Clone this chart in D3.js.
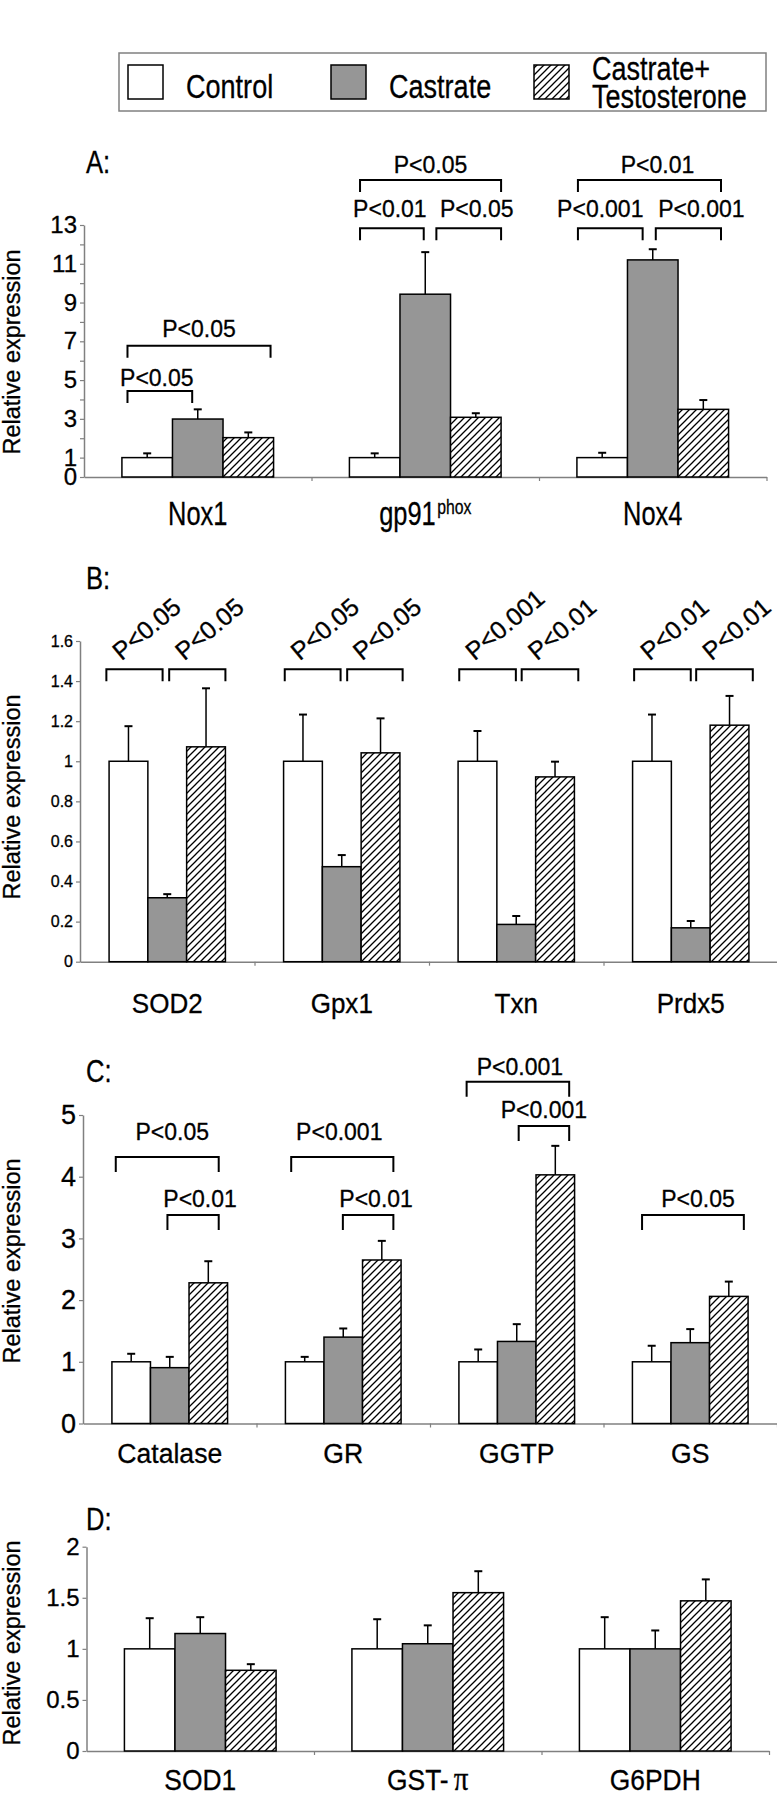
<!DOCTYPE html>
<html><head><meta charset="utf-8">
<script src="https://cdn.jsdelivr.net/npm/d3@7/dist/d3.min.js"></script>
<style>body{margin:0;background:#fff} svg{display:block} text{stroke:#000;stroke-width:0.3px}</style>
</head><body>
<svg id="chart" width="777" height="1800"></svg>
<script>
// ---------- DATA ----------
const seriesNames = ["Control", "Castrate", "Castrate+Testosterone"];
const legendLines = [["Control"], ["Castrate"], ["Castrate+", "Testosterone"]];

// Panel A
const catsA = ["Nox1", "gp91", "Nox4"];
const supA = ["", "phox", ""];
const controlA = [1.0, 1.0, 1.0];
const castrateA = [2.99, 9.43, 11.2];
const testoA = [2.03, 3.08, 3.49];
const controlErrA = [0.22, 0.22, 0.25];
const castrateErrA = [0.50, 2.17, 0.55];
const testoErrA = [0.27, 0.21, 0.48];
const ticksA = d3.range(0, 14);
const tickLabelsA = [0, 1, 3, 5, 7, 9, 11, 13];

// Panel B
const catsB = ["SOD2", "Gpx1", "Txn", "Prdx5"];
const controlB = [1.0, 1.0, 1.0, 1.0];
const castrateB = [0.319, 0.474, 0.186, 0.169];
const testoB = [1.072, 1.042, 0.922, 1.18];
const controlErrB = [0.175, 0.233, 0.151, 0.233];
const castrateErrB = [0.018, 0.058, 0.042, 0.034];
const testoErrB = [0.292, 0.172, 0.076, 0.146];
const ticksB = [0, 0.2, 0.4, 0.6, 0.8, 1, 1.2, 1.4, 1.6];

// Panel C
const catsC = ["Catalase", "GR", "GGTP", "GS"];
const controlC = [1.0, 1.0, 1.0, 1.0];
const castrateC = [0.905, 1.40, 1.33, 1.31];
const testoC = [2.28, 2.65, 4.03, 2.06];
const controlErrC = [0.13, 0.08, 0.20, 0.26];
const castrateErrC = [0.175, 0.14, 0.28, 0.22];
const testoErrC = [0.35, 0.31, 0.47, 0.24];
const ticksC = [0, 1, 2, 3, 4, 5];

// Panel D
const catsD = ["SOD1", "GST-\u03c0", "G6PDH"];
const controlD = [1.0, 1.0, 1.0];
const castrateD = [1.15, 1.05, 1.0];
const testoD = [0.79, 1.55, 1.47];
const controlErrD = [0.30, 0.29, 0.31];
const castrateErrD = [0.16, 0.18, 0.18];
const testoErrD = [0.06, 0.21, 0.21];
const ticksD = [0, 0.5, 1, 1.5, 2];

// significance brackets: [category, from bar-pos, to bar-pos, level (data units), label]
const bracketsA = [
  ["Nox1", 0.11, 1.39, 4.44, "P<0.05"],
  ["Nox1", 0.11, 2.94, 6.77, "P<0.05"],
  ["gp91", 0.21, 1.47, 12.83, "P<0.01"],
  ["gp91", 1.72, 3.0, 12.83, "P<0.05"],
  ["gp91", 0.21, 3.0, 15.32, "P<0.05"],
  ["Nox4", 0.02, 1.30, 12.83, "P<0.001"],
  ["Nox4", 1.56, 2.85, 12.83, "P<0.001"],
  ["Nox4", 0.02, 2.85, 15.32, "P<0.01"]
];
const bracketsB = [
  ["SOD2", -0.07, 1.38, 1.459, "P<0.05"],
  ["SOD2", 1.55, 3.0, 1.459, "P<0.05"],
  ["Gpx1", 0.03, 1.47, 1.459, "P<0.05"],
  ["Gpx1", 1.64, 3.07, 1.459, "P<0.05"],
  ["Txn", 0.03, 1.49, 1.459, "P<0.001"],
  ["Txn", 1.64, 3.1, 1.459, "P<0.01"],
  ["Prdx5", 0.04, 1.5, 1.459, "P<0.01"],
  ["Prdx5", 1.64, 3.1, 1.459, "P<0.01"]
];
const bracketsC = [
  ["Catalase", 0.1, 2.77, 4.32, "P<0.05"],
  ["Catalase", 1.44, 2.77, 3.38, "P<0.01"],
  ["GR", 0.15, 2.80, 4.32, "P<0.001"],
  ["GR", 1.49, 2.80, 3.38, "P<0.01"],
  ["GGTP", 0.2, 2.86, 5.54, "P<0.001"],
  ["GGTP", 1.55, 2.86, 4.82, "P<0.001"],
  ["GS", 0.25, 2.89, 3.38, "P<0.05"]
];

// ---------- DRAWING ----------
const svg = d3.select("#chart");
const SANS = "'Liberation Sans',Arial,Helvetica,sans-serif";
const AXIS_GRAY = "#808080";

// condensed text helper (horizontal squeeze of a real text element)
function ntext(parent, x, y, str, size, sx, anchor) {
  return parent.append("text")
    .attr("transform", `translate(${x},${y}) scale(${sx},1)`)
    .attr("text-anchor", anchor || "start")
    .attr("font-family", SANS).attr("font-size", size).attr("fill", "#000")
    .text(str);
}

const defs = svg.append("defs");
const pat = defs.append("pattern").attr("id", "hatch")
  .attr("patternUnits", "userSpaceOnUse").attr("width", 7).attr("height", 7);
pat.append("rect").attr("width", 7).attr("height", 7).attr("fill", "#fff");
pat.append("path").attr("d", "M-1,1 L1,-1 M0,7 L7,0 M6,8 L8,6")
  .attr("stroke", "#000").attr("stroke-width", 1.3);
const fills = ["#ffffff", "#969696", "url(#hatch)"];

// legend
const lg = svg.append("g");
lg.append("rect").attr("x", 119).attr("y", 53).attr("width", 647).attr("height", 58)
  .attr("fill", "none").attr("stroke", AXIS_GRAY).attr("stroke-width", 1.5);
const legX = d3.scalePoint().domain(seriesNames).range([128, 534]);
seriesNames.forEach((s, i) => {
  const sx = legX(s);
  lg.append("rect").attr("x", sx).attr("y", 65).attr("width", 35).attr("height", 34)
    .attr("fill", fills[i]).attr("stroke", "#000").attr("stroke-width", 1.5);
  const lines = legendLines[i];
  lines.forEach((t, j) => {
    const by = lines.length === 1 ? 98 : (j === 0 ? 80 : 108);
    ntext(lg, sx + 58, by, t, 33, 0.82);
  });
});

function panel(cfg) {
  const g = svg.append("g");
  const n = cfg.cats.length;
  const x = d3.scaleBand().domain(cfg.cats).range([cfg.x0, cfg.x0 + cfg.band * n]).padding(0);
  const inner = d3.scaleBand().domain([0, 1, 2])
    .range([x.bandwidth() / 6, x.bandwidth() * 5 / 6]).padding(0);
  const bw = inner.bandwidth();
  const y = d3.scaleLinear().domain(cfg.domain).range([cfg.y0, cfg.yTop]);

  // panel letter
  ntext(g, 86, cfg.letterY, cfg.letter, 32, 0.8);

  // y title
  g.append("text").attr("transform", `translate(20,${cfg.titleY}) rotate(-90)`)
    .attr("text-anchor", "middle").text("Relative expression")
    .attr("font-family", SANS).attr("font-size", cfg.titleSize).attr("fill", "#000");

  // y axis
  const yAxis = d3.axisLeft(y).tickValues(cfg.ticks).tickSize(4).tickSizeOuter(0).tickPadding(3)
    .tickFormat(d => (cfg.tickLabels ? (cfg.tickLabels.includes(d) ? String(d) : "") : String(+d.toFixed(1))));
  const ya = g.append("g").attr("transform", `translate(${cfg.x0},0)`).call(yAxis);
  ya.select(".domain").attr("stroke", AXIS_GRAY).attr("stroke-width", 1.5);
  ya.selectAll(".tick line").attr("stroke", AXIS_GRAY).attr("stroke-width", 1.2);
  ya.selectAll(".tick text").attr("font-family", SANS).attr("font-size", cfg.tickSize).attr("fill", "#000");

  // x axis (group separators)
  const xl = d3.scaleLinear().domain([0, n]).range([cfg.x0, cfg.x0 + cfg.band * n]);
  const xAxis = d3.axisBottom(xl).tickValues(d3.range(1, n + 1)).tickSize(4).tickSizeOuter(0).tickFormat("");
  const xa = g.append("g").attr("transform", `translate(0,${cfg.y0})`).call(xAxis);
  xa.select(".domain").attr("stroke", AXIS_GRAY).attr("stroke-width", 1.5);
  xa.selectAll(".tick line").attr("stroke", AXIS_GRAY).attr("stroke-width", 1.2);

  // bars
  cfg.series.forEach((vals, si) => {
    const errs = cfg.errors[si];
    const bg = g.append("g");
    bg.selectAll("rect").data(cfg.cats).join("rect")
      .attr("x", c => x(c) + inner(si))
      .attr("y", (c, i) => y(vals[i]))
      .attr("width", bw)
      .attr("height", (c, i) => y(0) - y(vals[i]))
      .attr("fill", fills[si]).attr("stroke", "#000").attr("stroke-width", 1.5);
    const eg = g.append("g").attr("stroke", "#000");
    cfg.cats.forEach((c, i) => {
      const cx = x(c) + inner(si) + bw / 2;
      eg.append("line").attr("x1", cx).attr("x2", cx)
        .attr("y1", y(vals[i])).attr("y2", y(vals[i] + errs[i])).attr("stroke-width", 1.5);
      eg.append("line").attr("x1", cx - 4).attr("x2", cx + 4)
        .attr("y1", y(vals[i] + errs[i])).attr("y2", y(vals[i] + errs[i])).attr("stroke-width", 2);
    });
  });

  // category labels
  cfg.cats.forEach((c, i) => {
    const t = ntext(g, x(c) + x.bandwidth() / 2, cfg.labelY, null, cfg.labelSize, cfg.labelSx, "middle");
    if (c.includes("\u03c0")) {
      t.append("tspan").text(c.replace("\u03c0", ""));
      t.append("tspan").attr("dx", 6).attr("font-family", "'Liberation Serif','DejaVu Serif',serif")
        .attr("font-size", cfg.labelSize * 1.1).text("\u03c0");
    } else {
      t.append("tspan").text(c);
      if (cfg.sups && cfg.sups[i]) {
        t.append("tspan").attr("dy", -11).attr("dx", 2).attr("font-size", cfg.labelSize * 0.62).text(cfg.sups[i]);
      }
    }
  });

  // brackets
  (cfg.brackets || []).forEach((b, k) => {
    const [c, u1, u2, lev, label] = b;
    const base = x(c) + inner(0);
    const xa1 = base + u1 * bw, xa2 = base + u2 * bw;
    const yy = y(lev);
    g.append("path").attr("d", `M${xa1},${yy + cfg.leg}L${xa1},${yy}L${xa2},${yy}L${xa2},${yy + cfg.leg}`)
      .attr("fill", "none").attr("stroke", "#000").attr("stroke-width", 2);
    const cxm = (xa1 + xa2) / 2;
    const off = cfg.textOffsets ? cfg.textOffsets[k] : [0, 8];
    if (cfg.rotateText) {
      g.append("text").attr("transform", `translate(${cxm - 13},${yy - 8}) rotate(-40)`)
        .text(label).attr("font-family", SANS).attr("font-size", cfg.pSize).attr("fill", "#000");
    } else {
      g.append("text").attr("x", cxm + off[0]).attr("y", yy - off[1]).attr("text-anchor", "middle")
        .text(label).attr("font-family", SANS).attr("font-size", cfg.pSize).attr("fill", "#000");
    }
  });
}

panel({
  letter: "A:", letterY: 173, cats: catsA, sups: supA,
  series: [controlA, castrateA, testoA], errors: [controlErrA, castrateErrA, testoErrA],
  x0: 84, band: 227.5, y0: 477, yTop: 225, domain: [0, 13],
  ticks: ticksA, tickLabels: tickLabelsA, tickSize: 24,
  titleY: 352, titleSize: 23.5, labelY: 525, labelSize: 33, labelSx: 0.77,
  brackets: bracketsA, leg: 12, pSize: 23,
  textOffsets: [[-3, 5], [0, 9], [-2, 11], [8, 11], [0, 7], [-10, 11], [13, 11], [8, 7]]
});

panel({
  letter: "B:", letterY: 589, cats: catsB,
  series: [controlB, castrateB, testoB], errors: [controlErrB, castrateErrB, testoErrB],
  x0: 80, band: 174.5, y0: 961.7, yTop: 641, domain: [0, 1.6],
  ticks: ticksB, tickSize: 16,
  titleY: 797, titleSize: 23.5, labelY: 1013, labelSize: 28, labelSx: 0.93,
  brackets: bracketsB, leg: 12, pSize: 25, rotateText: true
});

panel({
  letter: "C:", letterY: 1082, cats: catsC,
  series: [controlC, castrateC, testoC], errors: [controlErrC, castrateErrC, testoErrC],
  x0: 83, band: 173.5, y0: 1423.5, yTop: 1115, domain: [0, 5],
  ticks: ticksC, tickSize: 27,
  titleY: 1261, titleSize: 23.5, labelY: 1463, labelSize: 28, labelSx: 0.95,
  brackets: bracketsC, leg: 15, pSize: 23,
  textOffsets: [[5, 17], [7, 8], [-3, 17], [8, 8], [2, 7], [0, 8], [5, 8]]
});

panel({
  letter: "D:", letterY: 1530, cats: catsD,
  series: [controlD, castrateD, testoD], errors: [controlErrD, castrateErrD, testoErrD],
  x0: 86.5, band: 227.5, y0: 1751, yTop: 1546.7, domain: [0, 2],
  ticks: ticksD, tickSize: 24,
  titleY: 1643, titleSize: 23.5, labelY: 1790, labelSize: 30, labelSx: 0.88
});
</script>
</body></html>
